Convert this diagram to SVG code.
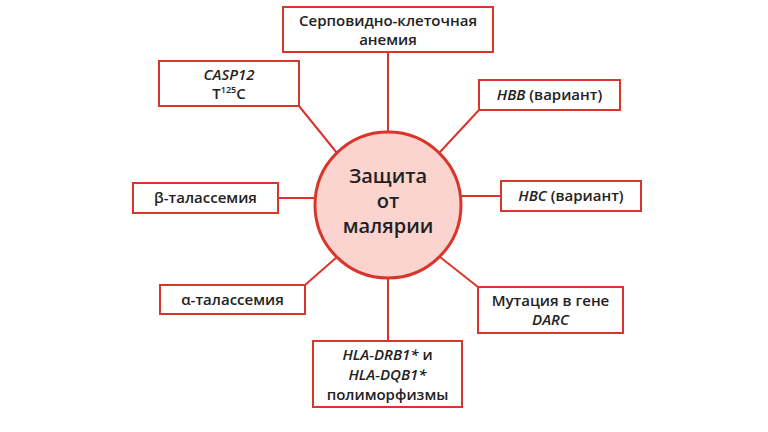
<svg xmlns="http://www.w3.org/2000/svg" width="768" height="432" viewBox="0 0 768 432">
<style>
.b{fill:#fff;stroke:#d8352b;stroke-width:2}
.l{stroke:#d8352b;stroke-width:2;fill:none}
text{font-family:"Open Sans","Noto Sans",sans-serif;font-weight:600;font-size:15px;fill:#222;text-anchor:middle}
i{font-style:italic}
.c{font-size:20px}
</style>
<rect width="768" height="432" fill="#fff"/>
<g id="connectors">
<line class="l" x1="388" y1="52" x2="388" y2="132"/>
<line class="l" x1="388" y1="278" x2="388" y2="341"/>
<line class="l" x1="299" y1="106" x2="337" y2="153"/>
<line class="l" x1="479" y1="110" x2="440" y2="152"/>
<line class="l" x1="461" y1="196" x2="501" y2="196"/>
<line class="l" x1="278" y1="198" x2="315" y2="198"/>
<line class="l" x1="305" y1="285" x2="337" y2="257"/>
<line class="l" x1="478" y1="287" x2="440" y2="257"/>
</g>
<g id="center"><circle cx="388" cy="205" r="73" fill="#fbd3cf" stroke="#d8352b" stroke-width="3"/>
<text class="c" x="388" y="183">Защита</text><text class="c" x="388" y="208">от</text><text class="c" x="388" y="233">малярии</text></g>
<g id="n1"><rect class="b" x="283" y="7" width="210" height="45"/><text x="388" y="26">Серповидно-клеточная</text><text x="388" y="45">анемия</text></g>
<g id="n2"><rect class="b" x="159" y="61" width="140" height="45"/><text x="229" y="80" font-style="italic">CASP12</text><text x="229" y="99">T<tspan font-size="9" dy="-6">125</tspan><tspan dy="6">C</tspan></text></g>
<g id="n3"><rect class="b" x="479" y="80" width="141" height="30"/><text x="549.5" y="100"><tspan font-style="italic">HBB</tspan> (вариант)</text></g>
<g id="n4"><rect class="b" x="501" y="181" width="140" height="30"/><text x="571" y="201"><tspan font-style="italic">HBC</tspan> (вариант)</text></g>
<g id="n5"><rect class="b" x="133" y="183" width="145" height="30"/><text x="205.5" y="203">β-талассемия</text></g>
<g id="n6"><rect class="b" x="160" y="285" width="145" height="29"/><text x="232.5" y="305">α-талассемия</text></g>
<g id="n7"><rect class="b" x="478" y="287" width="145" height="46"/><text x="550.5" y="306">Мутация в гене</text><text x="550.5" y="325" font-style="italic">DARC</text></g>
<g id="n8"><rect class="b" x="313" y="341" width="149" height="66"/><text x="387.5" y="360"><tspan font-style="italic">HLA-DRB1*</tspan> и</text><text x="387.5" y="380" font-style="italic">HLA-DQB1*</text><text x="387.5" y="400">полиморфизмы</text></g>
</svg>
